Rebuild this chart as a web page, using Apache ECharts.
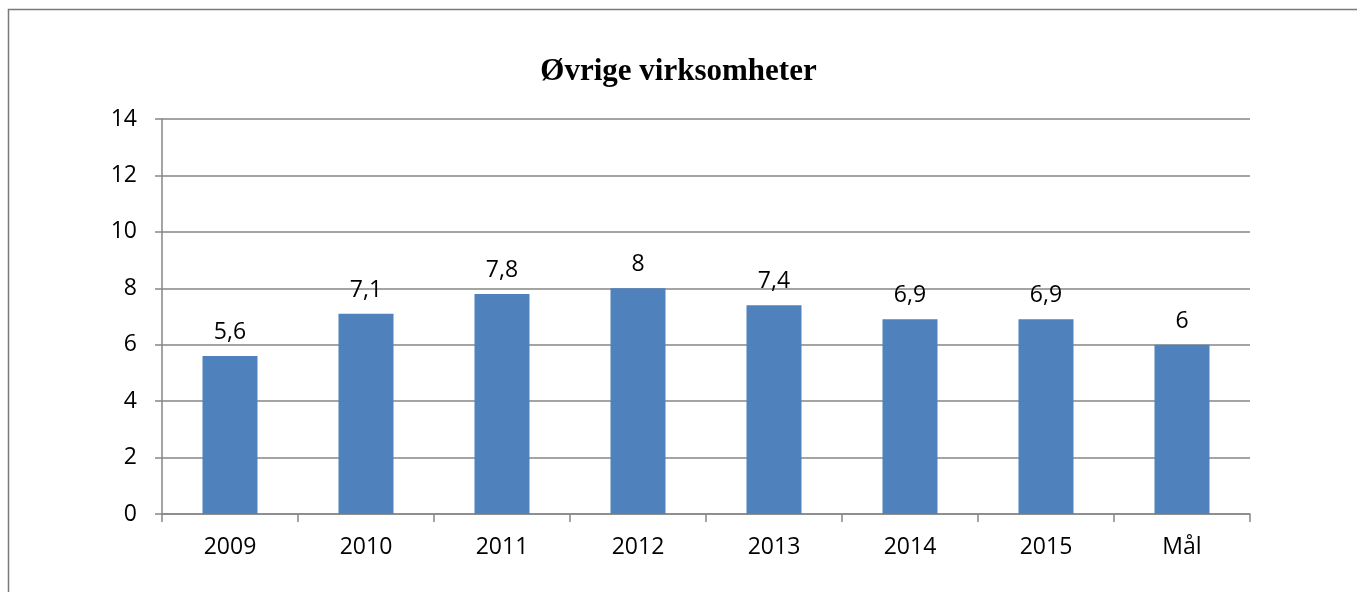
<!DOCTYPE html>
<html>
<head>
<meta charset="utf-8">
<script src="https://cdn.jsdelivr.net/npm/echarts@6/dist/echarts.min.js"></script>
<style>
  html, body { margin: 0; padding: 0; background: #fff; }
  #chart { width: 1357px; height: 592px; }
</style>
</head>
<body>
<div id="chart"></div>
<script>
// data
var categories = ['2009', '2010', '2011', '2012', '2013', '2014', '2015', 'Mål'];
var values = [5.6, 7.1, 7.8, 8, 7.4, 6.9, 6.9, 6];
var titleText = 'Øvrige virksomheter';

var chart = echarts.init(document.getElementById('chart'));
chart.setOption({
  animation: false,
  title: {
    text: titleText,
    left: 'center',
    top: 51,
    textStyle: {
      fontFamily: 'Liberation Serif',
      fontWeight: 'bold',
      fontSize: 31,
      color: '#000'
    }
  },
  graphic: [{
    type: 'rect',
    shape: { x: 8.5, y: 9.5, width: 1400, height: 700 },
    style: { fill: 'none', stroke: '#7a7a7a', lineWidth: 1.5 },
    silent: true
  }],
  grid: { left: 162, right: 107, top: 119, bottom: 78 },
  xAxis: {
    type: 'category',
    data: categories,
    axisLine: { lineStyle: { color: '#868686', width: 1.5 } },
    axisTick: { show: true, length: 8, lineStyle: { color: '#868686', width: 1.5 } },
    axisLabel: { color: '#000', fontFamily: 'Open Sans', fontSize: 23, margin: 22 }
  },
  yAxis: {
    type: 'value',
    min: 0,
    max: 14,
    interval: 2,
    axisLine: { show: true, lineStyle: { color: '#868686', width: 1.5 } },
    axisTick: { show: true, length: 7, lineStyle: { color: '#868686', width: 1.5 } },
    splitLine: { lineStyle: { color: '#868686', width: 1.5 } },
    axisLabel: { color: '#000', fontFamily: 'Open Sans', fontSize: 23, margin: 25 }
  },
  series: [{
    type: 'bar',
    data: values,
    barWidth: 55,
    itemStyle: { color: '#4F81BD' },
    label: {
      show: true,
      position: 'top',
      distance: 12,
      color: '#000',
      fontFamily: 'Open Sans',
      fontSize: 23,
      formatter: function (p) { return String(p.value).replace('.', ','); }
    }
  }]
});
</script>
</body>
</html>
